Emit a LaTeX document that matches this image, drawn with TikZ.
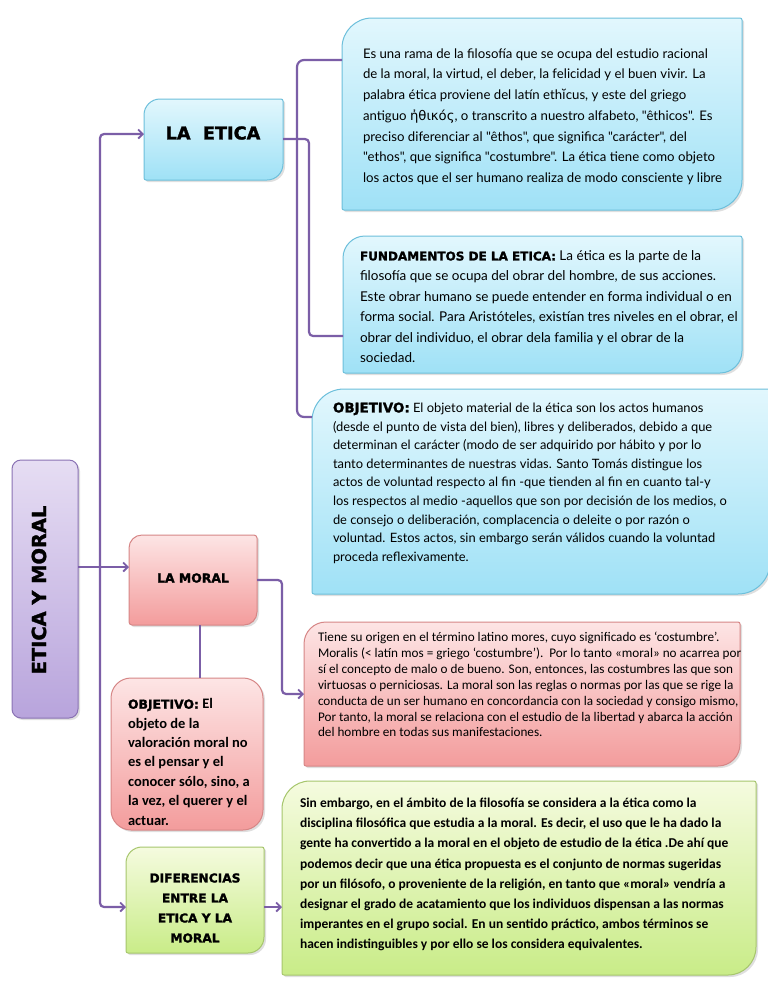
\documentclass[tikz,border=0pt]{standalone}
\usepackage{fontspec}
\setmainfont{Carlito}
\newfontfamily\kfont{Lato}
\newfontfamily\gfont{DejaVu Sans}
\newfontfamily\hfont{DejaVu Sans Bold}[FakeBold=1.6]
\usetikzlibrary{arrows.meta,calc,shadows}
\definecolor{conncol}{HTML}{7B5EA7}
\definecolor{bluetop}{HTML}{E2F7FD}
\definecolor{bluebot}{HTML}{9FE1F6}
\definecolor{blueedge}{HTML}{6CBFDB}
\definecolor{pinktop}{HTML}{FDE5E5}
\definecolor{pinkbot}{HTML}{F39C9C}
\definecolor{pinkedge}{HTML}{D68686}
\definecolor{greentop}{HTML}{F5FBDF}
\definecolor{greenbot}{HTML}{C9EC88}
\definecolor{greenedge}{HTML}{A6C66C}
\definecolor{purptop}{HTML}{E6DDF3}
\definecolor{purpbot}{HTML}{B8A4DC}
\definecolor{purpedge}{HTML}{8A72B4}
\tikzset{
  conn/.style={draw=conncol, line width=2.2pt},
  arr/.style={-{Straight Barb[length=4.5pt,width=9pt,line width=1.8pt]}},
  bluebox/.style={draw=blueedge, line width=1pt, top color=bluetop, bottom color=bluebot,
     drop shadow={shadow xshift=2pt, shadow yshift=-2pt, opacity=0.25}},
  pinkbox/.style={draw=pinkedge, line width=1pt, top color=pinktop, bottom color=pinkbot,
     drop shadow={shadow xshift=2pt, shadow yshift=-2pt, opacity=0.25}},
  greenbox/.style={draw=greenedge, line width=1pt, top color=greentop, bottom color=greenbot,
     drop shadow={shadow xshift=2pt, shadow yshift=-2pt, opacity=0.25}},
  purpbox/.style={draw=purpedge, line width=1pt, top color=purptop, bottom color=purpbot,
     drop shadow={shadow xshift=2pt, shadow yshift=-2pt, opacity=0.25}},
  frame/.style={inner sep=0pt, outer sep=0pt, anchor=north west},
  txt/.style={inner sep=0pt, outer sep=0pt, anchor=north west, align=left}
}
% #1 name, #2 style, #3 x1, #4 y1, #5 x2, #6 y2, #7 radius TL/BR, #8 radius TR/BL
\newcommand\shbox[8]{%
  \path[#2] (#3,#4+#7) arc[start angle=180,end angle=270,radius=#7]
     -- (#5-#8,#4) arc[start angle=270,end angle=360,radius=#8]
     -- (#5,#6-#7) arc[start angle=0,end angle=90,radius=#7]
     -- (#3+#8,#6) arc[start angle=90,end angle=180,radius=#8] -- cycle;
  \node[frame, minimum width=#5-#3, minimum height=#6-#4] (#1) at (#3,#4) {};}
\begin{document}
\begin{tikzpicture}[x=1pt,y=-1pt]
\useasboundingbox (0,0) rectangle (768,994);
\fill[white] (0,0) rectangle (768,994);
% junction coordinates
\coordinate (j) at (100,567);
\coordinate (tA) at (100,134);
\coordinate (tB) at (100,907);
\coordinate (k1) at (297,60);
\coordinate (k2) at (297,417);
\coordinate (k3) at (309,139);
\coordinate (k4) at (309,336);
\coordinate (m1) at (282,580);
\coordinate (m2) at (282,694);
\coordinate (v) at (200,0);
% boxes
\shbox{em}{purpbox}{12}{460}{78}{718}{9}{9}
\shbox{laetica}{bluebox}{144}{99}{283}{180}{16}{2}
\shbox{b1}{bluebox}{342}{18}{742}{210}{30}{2}
\shbox{b2}{bluebox}{343}{236}{742}{373}{22}{2}
\shbox{b3}{bluebox}{312}{389}{770}{594}{32}{2}
\shbox{lamoral}{pinkbox}{129}{535}{257}{625}{13}{3}
\shbox{pink}{pinkbox}{304}{622}{740}{766}{22}{2}
\shbox{objpink}{pinkbox}{111}{678}{263}{830}{20}{20}
\shbox{dif}{greenbox}{126}{847}{264}{953}{16}{2}
\shbox{green}{greenbox}{282}{781}{756}{975}{28}{2}
% connectors
\draw[conn,arr] (em.east |- j) -- (lamoral.west |- j);
\draw[conn,arr,rounded corners=4] (j) -- (tA) -- (laetica.west |- tA);
\draw[conn,arr,rounded corners=4] (j) -- (tB) -- (dif.west |- tB);
\draw[conn,arr] (dif.east |- tB) -- (green.west |- tB);
\draw[conn,arr,rounded corners=4] (lamoral.east |- m1) -- (m1) -- (m2) -- (pink.west |- m2);
\draw[conn] (lamoral.south -| v) -- (objpink.north -| v);
\draw[conn,rounded corners=7] (b1.west |- k1) -- (k1) -- (k2) -- (b3.west |- k2);
\draw[conn,rounded corners=4] (laetica.east |- k3) -- (k3) -- (k4) -- (b2.west |- k4);
% texts
\node[rotate=90, font=\hfont\fontsize{19.4}{22}\selectfont] (emt) at (39,590) {ETICA Y MORAL};
\node[font=\hfont\fontsize{17.7}{20}\selectfont] (laet) at (213,133) {LA\ \ ETICA};
\node[font=\hfont\fontsize{12.4}{14}\selectfont] (lamt) at (193,578) {LA MORAL};
\node[txt, font=\kfont\fontsize{13.2}{20.7}\selectfont] (b1t) at (363,48.5) {Es una rama de la filosofía que se ocupa del estudio racional\\
de la moral, la virtud, el deber, la felicidad y el buen vivir. La\\
palabra ética proviene del latín eth{\gfont ĭ}cus, y este del griego\\
antiguo {\gfont ἠθικός}, o transcrito a nuestro alfabeto, "êthicos". Es\\
preciso diferenciar al "êthos", que significa "carácter", del\\
"ethos", que significa "costumbre". La ética tiene como objeto\\
los actos que el ser humano realiza de modo consciente y libre};
\node[txt, font=\kfont\fontsize{13.5}{20.4}\selectfont] (b2t) at (360,250.5) {{\hfont\fontsize{12}{12}\selectfont FUNDAMENTOS DE LA ETICA:} La ética es la parte de la\\
filosofía que se ocupa del obrar del hombre, de sus acciones.\\
Este obrar humano se puede entender en forma individual o en\\
forma social. Para Aristóteles, existían tres niveles en el obrar, el\\
obrar del individuo, el obrar dela familia y el obrar de la\\
sociedad.};
\node[txt, font=\kfont\fontsize{12.9}{18.6}\selectfont] (b3t) at (333,402.5) {{\hfont\fontsize{13.4}{12}\selectfont OBJETIVO:} El objeto material de la ética son los actos humanos\\
(desde el punto de vista del bien), libres y deliberados, debido a que\\
determinan el carácter (modo de ser adquirido por hábito y por lo\\
tanto determinantes de nuestras vidas. Santo Tomás distingue los\\
actos de voluntad respecto al fin -que tienden al fin en cuanto tal-y\\
los respectos al medio -aquellos que son por decisión de los medios, o\\
de consejo o deliberación, complacencia o deleite o por razón o\\
voluntad. Estos actos, sin embargo serán válidos cuando la voluntad\\
proceda reflexivamente.};
\node[txt, font=\fontsize{13.2}{15.9}\selectfont] (pinkt) at (318,632) {Tiene su origen en el término latino mores, cuyo significado es ‘costumbre’.\\
Moralis (\textless{} latín mos = griego ‘costumbre’).\ \ Por lo tanto «moral» no acarrea por\\
sí el concepto de malo o de bueno. Son, entonces, las costumbres las que son\\
virtuosas o perniciosas. La moral son las reglas o normas por las que se rige la\\
conducta de un ser humano en concordancia con la sociedad y consigo mismo,\\
Por tanto, la moral se relaciona con el estudio de la libertad y abarca la acción\\
del hombre en todas sus manifestaciones.};
\node[txt, font=\bfseries\fontsize{14.5}{19.4}\selectfont] (objt) at (128,698.5) {{\hfont\fontsize{12.4}{12}\selectfont OBJETIVO:} El\\
objeto de la\\
valoración moral no\\
es el pensar y el\\
conocer sólo, sino, a\\
la vez, el querer y el\\
actuar.};
\node[align=center, inner sep=0pt, font=\hfont\fontsize{12.2}{20}\selectfont] (dift) at (195,908) {DIFERENCIAS\\ ENTRE LA\\ ETICA Y LA\\ MORAL};
\node[txt, font=\bfseries\fontsize{13.5}{20.2}\selectfont] (greent) at (300,798) {Sin embargo, en el ámbito de la filosofía se considera a la ética como la\\
disciplina filosófica que estudia a la moral. Es decir, el uso que le ha dado la\\
gente ha convertido a la moral en el objeto de estudio de la ética .De ahí que\\
podemos decir que una ética propuesta es el conjunto de normas sugeridas\\
por un filósofo, o proveniente de la religión, en tanto que «moral» vendría a\\
designar el grado de acatamiento que los individuos dispensan a las normas\\
imperantes en el grupo social. En un sentido práctico, ambos términos se\\
hacen indistinguibles y por ello se los considera equivalentes.};
\end{tikzpicture}
\end{document}
